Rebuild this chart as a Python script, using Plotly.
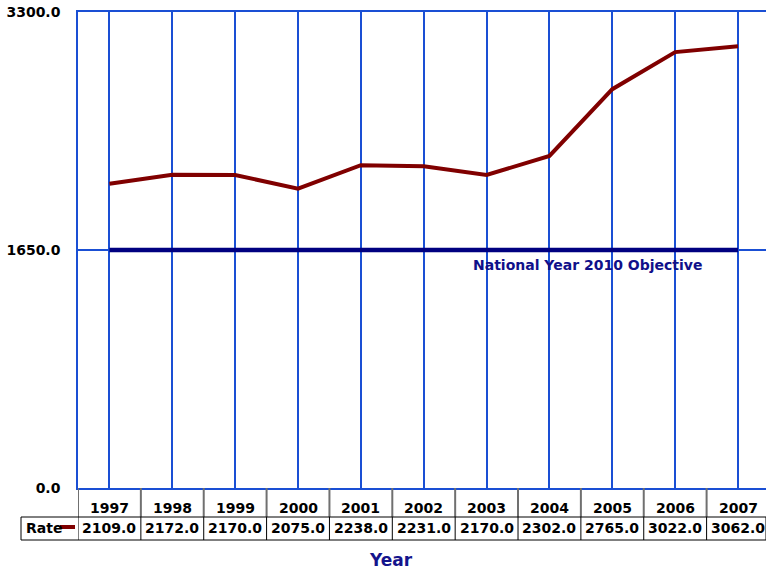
import plotly.graph_objects as go

years = ["1997", "1998", "1999", "2000", "2001", "2002", "2003", "2004", "2005", "2006", "2007"]
rate = [2109.0, 2172.0, 2170.0, 2075.0, 2238.0, 2231.0, 2170.0, 2302.0, 2765.0, 3022.0, 3062.0]
objective = 1650.0
objective_label = "National Year 2010 Objective"
series_name = "Rate"
y_ticks = [0.0, 1650.0, 3300.0]

W, H = 766, 570
L, R, T = 78, 0, 12
BOTTOM = 488
B = H - BOTTOM
plot_h = H - T - B
plot_w = W - L - R

def py(p):
    return (H - B - p) / plot_h

def px(p):
    return (p - L) / plot_w

xs = list(range(len(years)))
FONT = "DejaVu Sans"
GRID = "#1a4fd4"

fig = go.Figure()
fig.add_trace(go.Scatter(x=xs, y=[objective] * len(xs), mode="lines",
                         line=dict(color="#000080", width=4.5), hoverinfo="skip", showlegend=False))
fig.add_trace(go.Scatter(x=xs, y=rate, mode="lines", name=series_name,
                         line=dict(color="#800000", width=4), showlegend=False))

annotations = [
    dict(x=7.6, y=objective, xref="x", yref="y", yshift=-15, text="<b>" + objective_label + "</b>",
         showarrow=False, font=dict(family=FONT, size=14, color="#10108a")),
    dict(x=px(391), y=py(560), xref="paper", yref="paper", yanchor="middle", text="<b>Year</b>",
         showarrow=False, font=dict(family=FONT, size=17, color="#14148c")),
    dict(x=px(24), y=py(528), xref="paper", yref="paper", xanchor="left", yanchor="middle",
         text="<b>" + series_name + "</b>", showarrow=False, font=dict(family=FONT, size=14, color="black")),
]
for i, yr in enumerate(years):
    annotations.append(dict(x=i, y=py(508), xref="x", yref="paper", yanchor="middle", text="<b>" + yr + "</b>",
                            showarrow=False, font=dict(family=FONT, size=14, color="black")))
    annotations.append(dict(x=i, y=py(528), xref="x", yref="paper", yanchor="middle", text="<b>%.1f</b>" % rate[i],
                            showarrow=False, font=dict(family=FONT, size=14, color="black")))

shapes = []
for i in range(len(years)):
    shapes.append(dict(type="line", xref="x", yref="paper", x0=i - 0.5, x1=i - 0.5,
                       y0=py(488), y1=py(517), line=dict(color="#707070", width=2)))
shapes.append(dict(type="rect", xref="paper", yref="paper", x0=px(21), x1=1,
                   y0=py(517), y1=py(540), line=dict(color="black", width=1)))
for i in range(len(years)):
    shapes.append(dict(type="line", xref="x", yref="paper", x0=i - 0.5, x1=i - 0.5,
                       y0=py(517), y1=py(540), line=dict(color="black", width=1)))
shapes.append(dict(type="line", xref="paper", yref="paper", x0=px(60), x1=px(75),
                   y0=py(527), y1=py(527), line=dict(color="#800000", width=4)))

fig.update_layout(
    width=W, height=H, margin=dict(l=L, r=R, t=T, b=B),
    paper_bgcolor="white", plot_bgcolor="white",
    xaxis=dict(range=[-0.5, 10.445], tickvals=xs, showticklabels=False, showgrid=True,
               gridcolor=GRID, gridwidth=1.5, zeroline=False, showline=True, mirror=True,
               linecolor=GRID, linewidth=2, ticks=""),
    yaxis=dict(range=[0, 3300], tickvals=y_ticks, ticktext=["%.1f" % v for v in y_ticks],
               showgrid=True, gridcolor=GRID, gridwidth=1.5, zeroline=False, showline=True,
               linecolor=GRID, linewidth=1.5, ticks="", ticklabelstandoff=13, ticklabeloverflow="allow",
               tickfont=dict(family=FONT, size=14, color="black", weight="bold")),
    annotations=annotations, shapes=shapes, showlegend=False,
)
fig.write_html("out.html", config={"displayModeBar": False},
               post_script="document.body.style.margin='0';document.body.style.overflow='hidden';")
